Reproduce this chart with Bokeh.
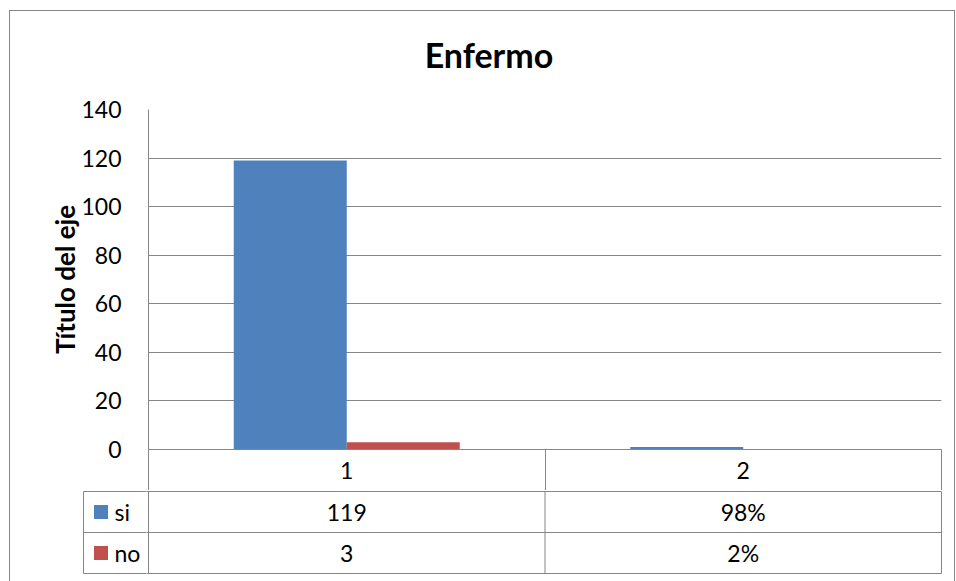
from bokeh.plotting import figure
from bokeh.layouts import column, row
from bokeh.models import Range1d, FixedTicker
from bokeh.embed import file_html
from bokeh.resources import INLINE
from bokeh.core.properties import value

# ---------------- data ----------------
categories = ["1", "2"]
series_names = ["si", "no"]
si_values = [119, 0.98]
no_values = [3, 0.02]
si_labels = ["119", "98%"]
no_labels = ["3", "2%"]
y_ticks = [0, 20, 40, 60, 80, 100, 120, 140]
chart_title = "Enfermo"
y_title = "Título del eje"

# ---------------- style ----------------
BLUE = "#4F81BD"
RED = "#C0504D"
GRID = "#868686"
FONT = "Lato"
FS = "23px"

# layout constants (page pixels)
W = 944
X0, Y0 = 10, 11                 # content origin inside the outer border
PLOT_L, PLOT_R = 148, 941       # plot area left / right
PLOT_T, PLOT_B = 109, 449       # plot area top / bottom (value 0)
HEAD_B = 90                     # page y where the title strip ends
ROW_H = 41                      # table row height
TAB_L = 83                      # table left edge (legend column)
SPLIT = 146                     # page x where legend figure ends
TITLE_X, TITLE_Y = 488.5, 54    # title centre
n = len(categories)
PXU = (PLOT_R - PLOT_L) / n     # pixels per category unit
LEG_W = (PLOT_L - TAB_L) / PXU

def clean(f):
    f.outline_line_color = None
    f.background_fill_color = "white"
    f.border_fill_color = "white"

# ---------------- title strip ----------------
head_h = HEAD_B - Y0
head = figure(width=W, height=head_h, x_range=Range1d(0, n), y_range=Range1d(0, head_h),
              output_backend="svg", toolbar_location=None,
              x_axis_location=None, y_axis_location=None,
              min_border_left=PLOT_L - X0, min_border_right=X0 + W - PLOT_R,
              min_border_top=0, min_border_bottom=0)
clean(head)
head.xgrid.visible = False
head.ygrid.visible = False
head.text(x=[(TITLE_X - PLOT_L) / PXU], y=[HEAD_B - TITLE_Y], text=[chart_title],
          text_font=value(FONT), text_font_size="34px", text_font_style="bold",
          text_align="center", text_baseline="middle", text_color="black")

# ---------------- chart (with category row as x axis) ----------------
top = figure(width=W, height=PLOT_B + ROW_H - HEAD_B,
             x_range=Range1d(0, n), y_range=Range1d(0, 140),
             output_backend="svg", toolbar_location=None,
             min_border_left=PLOT_L - X0, min_border_right=X0 + W - PLOT_R,
             min_border_top=PLOT_T - HEAD_B, min_border_bottom=ROW_H)
clean(top)
top.xgrid.visible = False
top.ygrid.grid_line_color = GRID

ay = top.yaxis[0]
ay.ticker = FixedTicker(ticks=y_ticks)
ay.major_tick_line_color = None
ay.minor_tick_line_color = None
ay.axis_line_color = GRID
ay.major_label_text_font = FONT
ay.major_label_text_font_size = FS
ay.major_label_text_color = "black"
ay.major_label_standoff = 21
ay.axis_label = y_title
ay.axis_label_text_font = FONT
ay.axis_label_text_font_size = "26px"
ay.axis_label_text_font_style = "bold"
ay.axis_label_text_color = "black"
ay.axis_label_standoff = -3

centers = [i + 0.5 for i in range(n)]
ax = top.xaxis[0]
ax.ticker = FixedTicker(ticks=centers, minor_ticks=list(range(n + 1)))
ax.major_label_overrides = {c: lab for c, lab in zip(centers, categories)}
ax.major_tick_line_color = None
ax.major_tick_in = 0
ax.major_tick_out = 0
ax.minor_tick_line_color = GRID
ax.minor_tick_in = 0
ax.minor_tick_out = ROW_H
ax.axis_line_color = GRID
ax.major_label_text_font = FONT
ax.major_label_text_font_size = FS
ax.major_label_text_color = "black"
ax.major_label_standoff = -29

bar_w = 0.285
top.vbar(x=[c - bar_w / 2 for c in centers], top=si_values, bottom=0, width=bar_w,
         fill_color=BLUE, line_color=None)
top.vbar(x=[c + bar_w / 2 for c in centers], top=no_values, bottom=0, width=bar_w,
         fill_color=RED, line_color=None)

# ---------------- data table rows (si / no) ----------------
tab_top = PLOT_B + ROW_H            # page y of first row line
fr_h = 581 - tab_top - 7            # frame height
yr_top = 2 + 1 / ROW_H
yr = Range1d(yr_top - fr_h / ROW_H, yr_top)
bh = 581 - tab_top

# legend column figure
leg_w = SPLIT - X0
lx0 = -(PLOT_L - (TAB_L - 2)) / PXU
lx1 = -(PLOT_L - SPLIT) / PXU
leg = figure(width=leg_w, height=bh, x_range=Range1d(lx0, lx1), y_range=yr,
             output_backend="svg", toolbar_location=None,
             x_axis_location=None, y_axis_location=None,
             min_border_left=TAB_L - 2 - X0, min_border_right=0,
             min_border_top=0, min_border_bottom=bh - fr_h)
# data table body figure
bx0 = -(PLOT_L - SPLIT) / PXU
bx1 = n + 2 / PXU
bot = figure(width=W - leg_w, height=bh, x_range=Range1d(bx0, bx1), y_range=yr,
             output_backend="svg", toolbar_location=None,
             x_axis_location=None, y_axis_location=None,
             min_border_left=0, min_border_right=X0 + W - (PLOT_R + 2),
             min_border_top=0, min_border_bottom=bh - fr_h)
for f in (leg, bot):
    clean(f)
    f.xgrid.visible = False
    f.ygrid.visible = False

hy = [0, 1, 2]
# legend column lines
leg.segment(x0=[-LEG_W], y0=[0], x1=[-LEG_W], y1=[2], line_color=GRID)
leg.segment(x0=[-LEG_W] * 3, y0=hy, x1=[lx1 + 1] * 3, y1=hy, line_color=GRID)
key_x = -LEG_W + (100.5 - TAB_L) / PXU
lab_x = -LEG_W + (114 - TAB_L) / PXU
leg.scatter(x=[key_x, key_x], y=[1.5, 0.5], marker="square", size=14,
            fill_color=[BLUE, RED], line_color=None)
leg.text(x=[lab_x, lab_x], y=[1.5, 0.5], text=series_names, text_font=value(FONT),
         text_font_size=FS, text_align="left", text_baseline="middle", text_color="black")

# body lines
vx = list(range(n + 1))
bot.segment(x0=vx, y0=[0] * len(vx), x1=vx, y1=[2] * len(vx), line_color=GRID)
bot.segment(x0=[bx0 - 1] * 3, y0=hy, x1=[n] * 3, y1=hy, line_color=GRID)
txt_kw = dict(text_font=value(FONT), text_font_size=FS, text_align="center",
              text_baseline="middle", text_color="black")
bot.text(x=centers, y=[1.5] * n, text=si_labels, **txt_kw)
bot.text(x=centers, y=[0.5] * n, text=no_labels, **txt_kw)

border = "1px solid #878787"
layout = column(head, top, row(leg, bot), margin=(10, 0, 0, 9),
                styles={"border-top": border, "border-left": border,
                        "border-right": border, "background": "white"})

open("out.html", "w").write(file_html(layout, INLINE))
